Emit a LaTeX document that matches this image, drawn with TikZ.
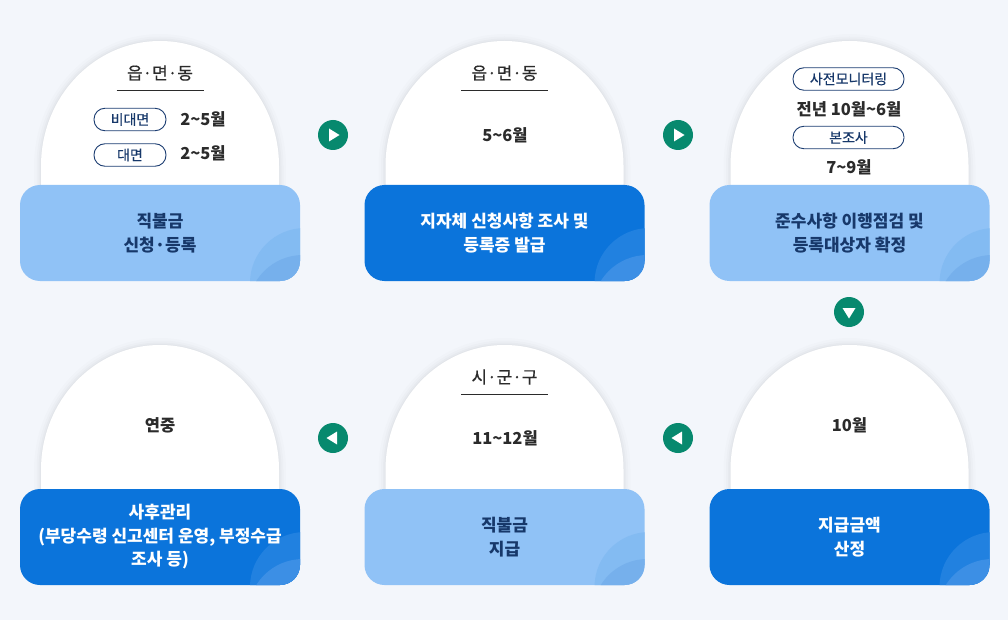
\documentclass[tikz,border=0pt]{standalone}
\usepackage{fontspec}
\setmainfont{Noto Sans CJK KR}
\newfontfamily\krmid[FakeBold=0.4]{Noto Sans CJK KR}
\usetikzlibrary{calc}
\definecolor{bgc}{HTML}{F3F6FB}
\definecolor{lightbox}{HTML}{90C2F6}
\definecolor{lightdecA}{HTML}{83BBF2}
\definecolor{lightdecB}{HTML}{76B0EC}
\definecolor{darkbox}{HTML}{0B74DB}
\definecolor{darkdecA}{HTML}{2181E0}
\definecolor{darkdecB}{HTML}{3C8FE5}
\definecolor{navytxt}{HTML}{17386A}
\definecolor{pillc}{HTML}{1D3E72}
\definecolor{txtc}{HTML}{2B2B2B}
\definecolor{grn}{HTML}{07896E}
\newcommand\mydome[2]{%
  \foreach \w/\o in {14/0.01,9/0.014,5/0.018,2/0.02}{
    \draw[black,opacity=\o,line width=\w pt] (#1-119,#2+150) -- (#1-119,#2+125) arc[start angle=180,end angle=360,x radius=119,y radius=125] -- (#1+119,#2+150);}
  \fill[white] (#1-119,#2+150) -- (#1-119,#2+125) arc[start angle=180,end angle=360,x radius=119,y radius=125] -- (#1+119,#2+150) -- cycle;}
\tikzset{
  boxbase/.style={minimum width=280pt,minimum height=96pt,rounded corners=20pt,inner sep=0pt,align=center,
    font=\bfseries\fontsize{17}{23.5}\selectfont},
  lightcard/.style={boxbase,fill=lightbox,text=navytxt,
    path picture={\fill[lightdecA] ($(path picture bounding box.south east)+(5,2)$) circle[radius=55pt];
                  \fill[lightdecB] ($(path picture bounding box.south east)+(3,29)$) circle[radius=55pt];}},
  darkcard/.style={boxbase,fill=darkbox,text=white,
    path picture={\fill[darkdecA] ($(path picture bounding box.south east)+(5,2)$) circle[radius=55pt];
                  \fill[darkdecB] ($(path picture bounding box.south east)+(3,29)$) circle[radius=55pt];}},
  hdr/.style={font=\krmid\fontsize{17}{20}\selectfont,text=txtc,inner sep=0pt},
  ul/.style={draw=txtc,line width=0.9pt},
  datet/.style={font=\bfseries\fontsize{16.5}{19}\selectfont,text=txtc,inner sep=0pt},
  pill/.style={draw=pillc,line width=0.9pt,rounded corners=11pt,minimum height=22.5pt,inner sep=0pt,
    font=\krmid\fontsize{14}{16}\selectfont,text=navytxt},
  arrowc/.style={circle,fill=grn,minimum size=30pt,inner sep=0pt},
}
\begin{document}
\begin{tikzpicture}[x=1pt,y=-1pt]
\fill[bgc] (0,0) rectangle (1008,620);
\useasboundingbox (0,0) rectangle (1008,620);
% domes
\mydome{160}{41}
\mydome{504.5}{41}
\mydome{849.5}{41}
\mydome{160}{345}
\mydome{504.5}{345}
\mydome{849.5}{345}
% boxes
\node[lightcard] (b1) at (160,233) {직불금\\신청·등록};
\node[darkcard] (b2) at (504.5,233) {지자체 신청사항 조사 및\\등록증 발급};
\node[lightcard] (b3) at (849.5,233) {준수사항 이행점검 및\\등록대상자 확정};
\node[darkcard] (b4) at (160,537) {사후관리\\(부당수령 신고센터 운영, 부정수급\\조사 등)};
\node[lightcard] (b5) at (504.5,537) {직불금\\지급};
\node[darkcard] (b6) at (849.5,537) {지급금액\\산정};
% card 1 top
\node[hdr] (h1) at (160,73) {읍·면·동};
\draw[ul] ($(h1)+(-43.5,17)$) -- ($(h1)+(43.5,17)$);
\node[pill,minimum width=72pt] (p1) at (130,119.5) {비대면};
\node[datet] (d1) at (203,119) {2\textasciitilde5월};
\node[pill,minimum width=72pt] (p2) at (130,155) {대면};
\node[datet] (d2) at (203,153) {2\textasciitilde5월};
% card 2 top
\node[hdr] (h2) at (504.5,73) {읍·면·동};
\draw[ul] ($(h2)+(-43.5,17)$) -- ($(h2)+(43.5,17)$);
\node[datet] (d3) at (505,135) {5\textasciitilde6월};
% card 3 top
\node[pill,minimum width=111pt] (p3) at (848.5,79) {사전모니터링};
\node[datet] (d4) at (849,109) {전년 10월\textasciitilde6월};
\node[pill,minimum width=111pt] (p4) at (848.5,137.5) {본조사};
\node[datet] (d5) at (849,167) {7\textasciitilde9월};
% bottom row tops
\node[datet] (d6) at (160,425) {연중};
\node[hdr] (h3) at (504.5,377) {시·군·구};
\draw[ul] ($(h3)+(-43.5,17)$) -- ($(h3)+(43.5,17)$);
\node[datet] (d7) at (505,438) {11\textasciitilde12월};
\node[datet] (d8) at (849.5,425) {10월};
% arrows
\node[arrowc] (a1) at (333,135) {};
\fill[white] ($(a1)+(-4,-6.5)$) -- ($(a1)+(6.5,0)$) -- ($(a1)+(-4,6.5)$) -- cycle;
\node[arrowc] (a2) at (678,135) {};
\fill[white] ($(a2)+(-4,-6.5)$) -- ($(a2)+(6.5,0)$) -- ($(a2)+(-4,6.5)$) -- cycle;
\node[arrowc] (a3) at (849,312) {};
\fill[white] ($(a3)+(-6.5,-4)$) -- ($(a3)+(6.5,-4)$) -- ($(a3)+(0,6.5)$) -- cycle;
\node[arrowc] (a4) at (333,438) {};
\fill[white] ($(a4)+(4,-6.5)$) -- ($(a4)+(-6.5,0)$) -- ($(a4)+(4,6.5)$) -- cycle;
\node[arrowc] (a5) at (678,438) {};
\fill[white] ($(a5)+(4,-6.5)$) -- ($(a5)+(-6.5,0)$) -- ($(a5)+(4,6.5)$) -- cycle;
\end{tikzpicture}
\end{document}
